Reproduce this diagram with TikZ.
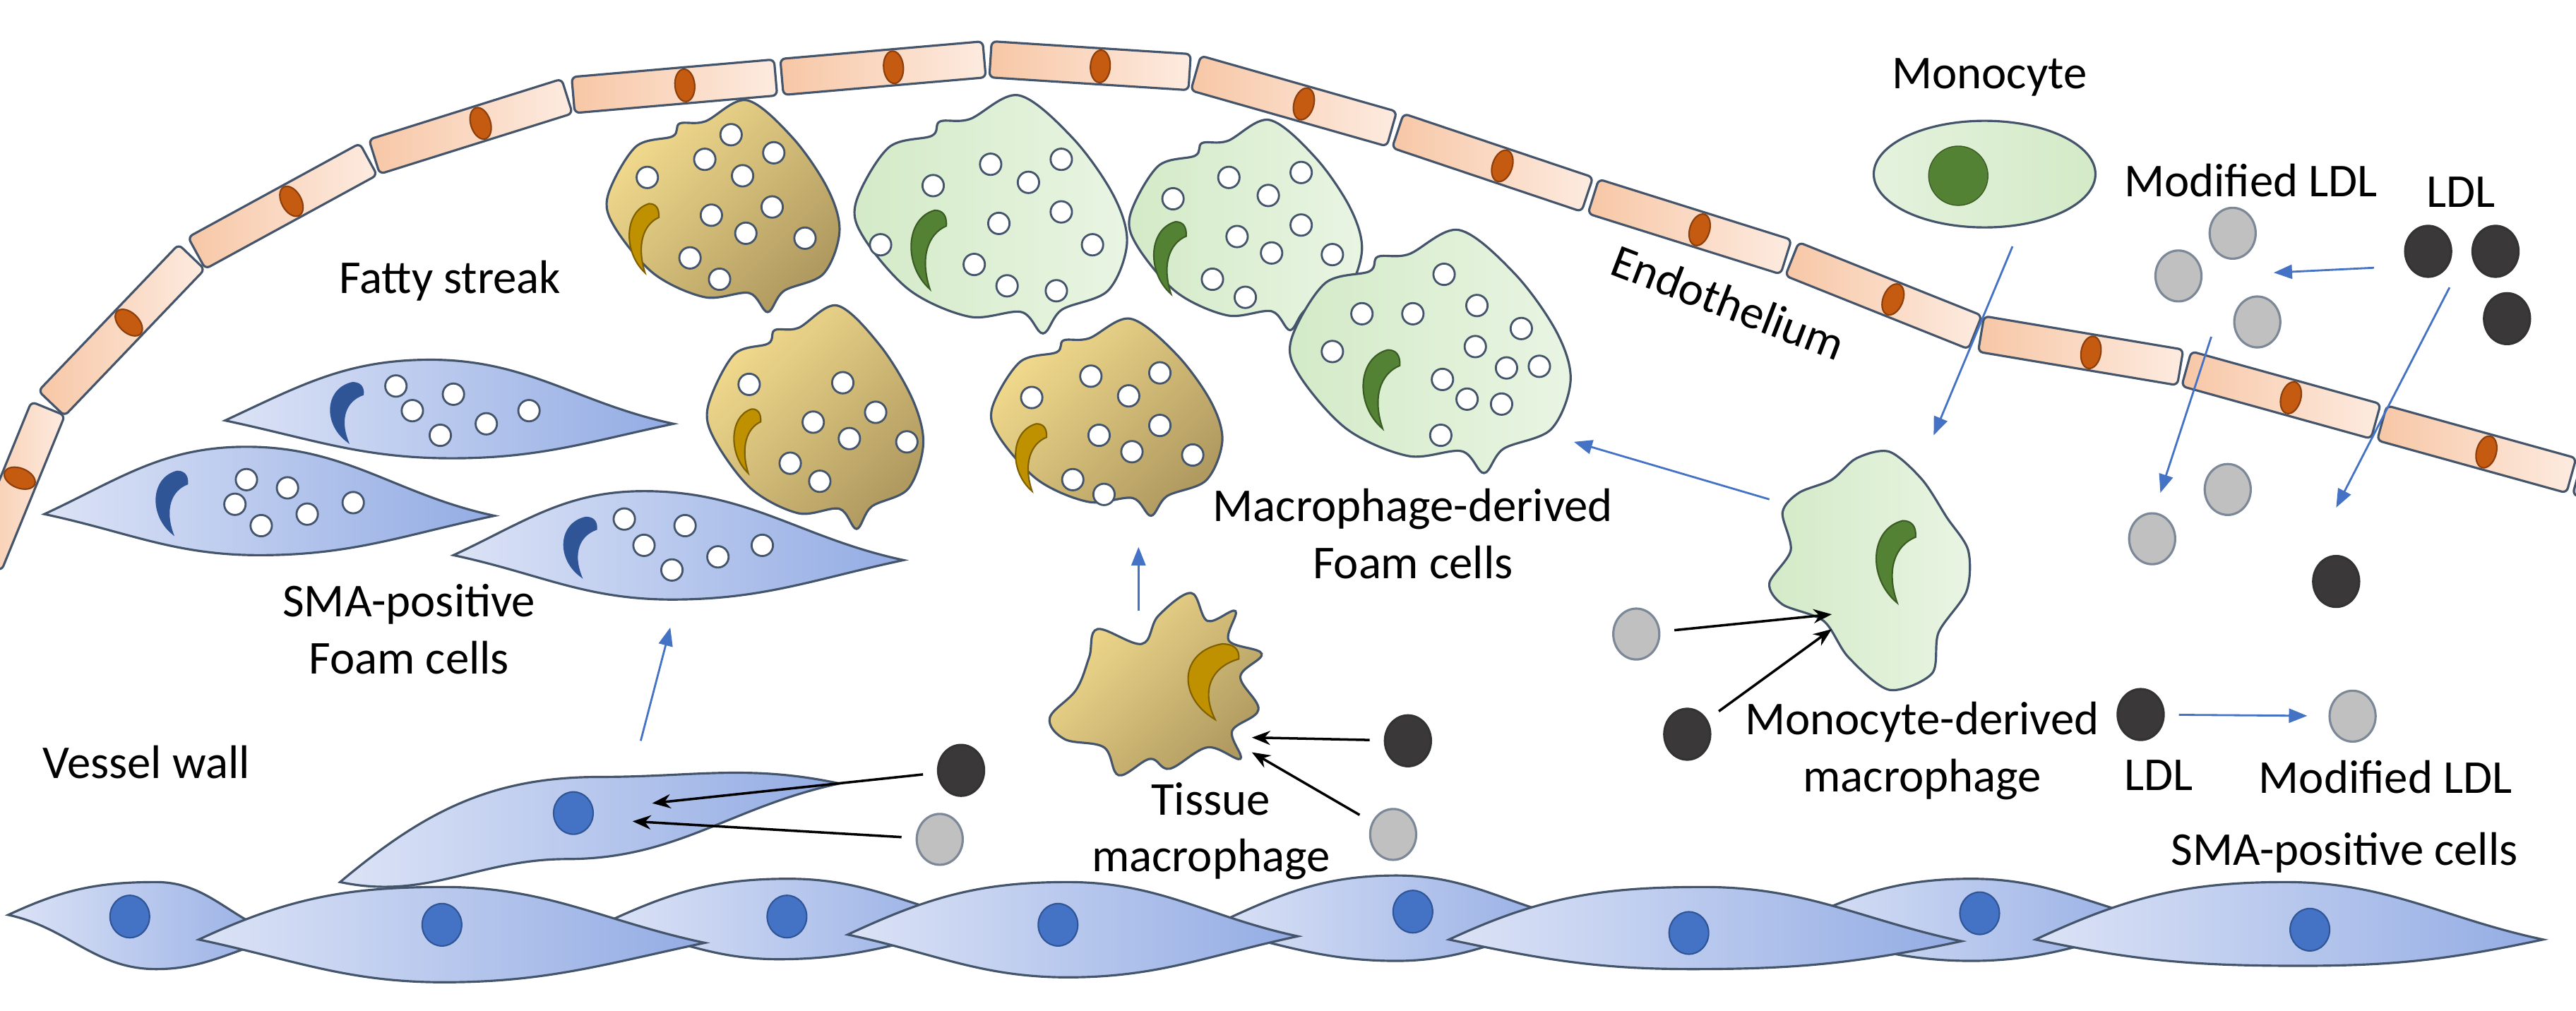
\documentclass[tikz,border=0pt]{standalone}
\usepackage{fontspec}
\setmainfont{Carlito}
\usetikzlibrary{calc,shapes.geometric,arrows.meta}
\definecolor{edge}{HTML}{44546A}
\definecolor{endoL}{HTML}{F7C7A6}
\definecolor{endoR}{HTML}{FDEBE0}
\definecolor{endoN}{HTML}{C55A11}
\definecolor{endoNd}{HTML}{8C3E0C}
\definecolor{yelL}{HTML}{F3DC8E}
\definecolor{yelR}{HTML}{B09A60}
\definecolor{yelN}{HTML}{BF9000}
\definecolor{yelNd}{HTML}{7F6000}
\definecolor{grnL}{HTML}{D3EAC7}
\definecolor{grnR}{HTML}{E9F5E3}
\definecolor{grnN}{HTML}{548235}
\definecolor{bluL}{HTML}{DCE3F6}
\definecolor{bluR}{HTML}{93ACE4}
\definecolor{bluC}{HTML}{2F5597}
\definecolor{bluN}{HTML}{4472C4}
\definecolor{arrB}{HTML}{4472C4}
\definecolor{ldl}{HTML}{3A3838}
\definecolor{mldl}{HTML}{C0C0C0}
\tikzset{
  lab/.style={font=\fontsize{19}{23}\selectfont, align=center, inner sep=0pt},
  endo/.style={rectangle, rounded corners=2pt, minimum height=0.512cm, inner sep=0pt, draw=edge, line width=0.9pt, left color=endoL, right color=endoR},
  enuc/.style={ellipse, minimum width=0.28cm, minimum height=0.46cm, inner sep=0pt, fill=endoN, draw=endoNd, line width=0.6pt},
  yelcell/.style={draw=edge, line width=0.9pt, left color=yelL, right color=yelR, shading angle=45},
  grncell/.style={draw=edge, line width=0.9pt, left color=grnL, right color=grnR},
  spin/.style={draw=edge, line width=0.9pt, left color=bluL, right color=bluR},
  vac/.style={fill=white, draw=edge, line width=0.8pt},
  part/.style={ellipse, minimum width=0.652cm, minimum height=0.721cm, inner sep=0pt, line width=0.9pt},
  dark/.style={part, fill=ldl, draw=black!80},
  gray/.style={part, fill=mldl, draw=edge!70},
  wnuc/.style={ellipse, minimum width=0.56cm, minimum height=0.6cm, inner sep=0pt, fill=bluN, draw=bluC, line width=0.6pt},
  barr/.style={draw=arrB, line width=0.8pt, -{Triangle[length=0.26cm,width=0.2cm]}},
  karr/.style={draw=black, line width=1pt, -{Stealth[length=0.26cm,width=0.2cm]}, shorten <=0.2cm}
}
\newcommand\blob[5]{\begin{scope}[shift={(#1,#2)},xscale=#3,yscale=#4]
 \draw[#5] plot[smooth cycle,tension=0.55] coordinates{(0.60,0.00) (0.80,0.18) (0.95,0.42) (1.00,0.62) (0.93,0.82) (0.76,0.90) (0.69,1.00) (0.61,0.91) (0.42,0.93) (0.20,0.82) (0.03,0.60) (0.00,0.45) (0.12,0.22) (0.28,0.17) (0.31,0.11) (0.42,0.10)};
\end{scope}}
\newcommand\cres[6]{\begin{scope}[shift={(#1,#2)},xscale=#3,yscale=#4]
 \filldraw[fill=#5,draw=#6,line width=0.6pt] (0.72,0) .. controls (0.0,0.1) and (-0.05,0.7) .. (0.6,1) .. controls (0.35,0.6) and (0.55,0.3) .. (1,0.2) .. controls (1.02,0.06) and (0.9,0) .. (0.72,0) -- cycle;
\end{scope}}
\newcommand\vacs[1]{\foreach \p in {#1} {\filldraw[vac] \p circle[radius=6.5];}}
\newcommand\spind[5][25]{\draw[spin] #2 to[out=#1,in=180] #3 to[out=0,in=168] #4 to[out=192,in=0] #5 to[out=180,in=-12] #2 -- cycle;}
\begin{document}
\begin{tikzpicture}[x=0.02327cm,y=-0.02327cm]
\useasboundingbox (0,0) rectangle (1568,615.5);
\clip (0,0) rectangle (1568,615.5);
% endothelium
\foreach \n/\c in {0/{-10,345},1/{30,247},2/{118,155},3/{226,96},4/{347,58},5/{474,47},6/{601,36},7/{726,44},8/{849,79},9/{968,119},10/{1089,157},11/{1204,203},12/{1329,224},13/{1448,257},14/{1567,290},15/{1686,323}}
  \coordinate (e\n) at (\c);
\foreach \a/\b in {0/1,1/2,2/3,3/4,4/5,5/6,6/7,7/8,8/9,9/10,10/11,11/12,12/13,13/14,14/15}{
  \path let \p1=(e\a), \p2=(e\b), \n1={atan2(\y2-\y1,\x2-\x1)}, \n2={veclen(\x2-\x1,\y2-\y1)-2.5} in
    node[endo, rotate=\n1, minimum width=\n2] (ec\a) at ($(e\a)!0.5!(e\b)$) {}
    node[enuc, rotate=\n1] (en\a) at ($(e\a)!0.55!(e\b)$) {};
}
% foam cells
\blob{370}{61}{141}{129}{yelcell}
\cres{380}{124}{21}{42}{yelN}{yelNd}
\vacs{(445,82),(429,97),(471,93),(394,108),(452,107),(470,126),(433,131),(454,142),(490,145),(420,157),(438,170)}
\blob{431}{186}{131}{136}{yelcell}
\cres{444}{249}{19}{39}{yelN}{yelNd}
\vacs{(456,234),(513,233),(533,251),(495,257),(517,267),(552,269),(481,282),(499,293)}
\blob{521}{58}{165}{145}{grncell}
\cres{551}{128}{25}{48}{grnN}{grnN!70!black}
\vacs{(603,100),(646,97),(568,113),(626,111),(646,129),(608,136),(536,149),(665,149),(593,161),(613,174),(643,177)}
\blob{688}{73}{141}{128}{grncell}
\cres{699}{135}{23}{44}{grnN}{grnN!70!black}
\vacs{(748,108),(792,105),(714,121),(772,119),(792,137),(753,144),(774,154),(811,155),(738,170),(758,181)}
\blob{786}{140}{170}{148}{grncell}
\cres{826}{213}{26}{48}{grnN}{grnN!70!black}
\vacs{(879,167),(829,191),(860,191),(899,186),(926,200),(811,214),(898,211),(917,224),(937,223),(878,231),(893,243),(914,246),(877,265)}
\blob{604}{194}{140}{120}{yelcell}
\cres{615}{258}{22}{41}{yelN}{yelNd}
\vacs{(628,242),(664,229),(706,227),(687,241),(669,265),(706,259),(689,275),(726,277),(653,292),(672,301)}
% SMA foam cells
\spind{(137,256)}{(262,219)}{(410,258)}{(275,279)}
\cres{198}{233}{23}{36}{bluC}{bluC}
\vacs{(241,235),(276,240),(251,250),(296,258),(268,265),(322,250)}
\spind{(27,313)}{(150,272)}{(301,314)}{(158,338)}
\cres{92}{287}{22}{38}{bluC}{bluC}
\vacs{(150,292),(175,297),(143,307),(159,320),(187,313),(215,306)}
\spind{(276,338)}{(392,299)}{(550,341)}{(409,365)}
\cres{340}{315}{23}{36}{bluC}{bluC}
\vacs{(380,316),(417,320),(392,332),(437,339),(464,332),(409,347)}
% vessel wall cells
\spind{(5,557)}{(95,537)}{(175,570)}{(95,590)}
\spind{(368,562)}{(480,535)}{(600,562)}{(474,584)}
\spind{(735,565)}{(850,533)}{(960,560)}{(850,585)}
\spind{(1085,565)}{(1200,535)}{(1320,562)}{(1200,585)}
\spind{(121,572)}{(270,540)}{(429,574)}{(270,598)}
\spind{(516,569)}{(650,537)}{(790,570)}{(650,595)}
\spind{(882,572)}{(1037,540)}{(1194,573)}{(1030,590)}
\spind{(1239,572)}{(1391,537)}{(1548,572)}{(1400,588)}
\foreach \n/\c in {1/{79,558},2/{269,563},3/{479,558},4/{644,563},5/{860,555},6/{1028,568},7/{1205,556},8/{1406,566}}
  \node[wnuc] (wn\n) at (\c) {};
% migrating SMA cell
\spind[40]{(207,537)}{(365,473)}{(511,477)}{(345,523)}
\node[wnuc] (mn) at (349,495) {};
% tissue macrophage
\draw[yelcell] plot[smooth cycle,tension=0.6] coordinates{(725,361) (735,378) (752,372) (748,390) (768,398) (755,412) (766,432) (750,445) (755,462) (735,455) (712,468) (700,462) (681,472) (672,455) (648,450) (639,437) (655,420) (663,400) (668,383) (695,392) (705,375)};
\cres{718}{392}{36}{46}{yelN}{yelNd}
% monocyte-derived macrophage
\draw[grncell] plot[smooth cycle,tension=0.5] coordinates{(1130,279) (1150,275) (1170,292) (1185,315) (1198,335) (1197,360) (1180,385) (1176,410) (1150,420) (1125,400) (1110,378) (1085,368) (1077,355) (1090,335) (1085,312) (1095,300) (1115,292)};
\cres{1138}{317}{28}{50}{grnN}{grnN!70!black}
% monocyte
\node[ellipse, draw=edge, line width=0.9pt, left color=grnL!60!white, right color=grnL, minimum width=3.14cm, minimum height=1.51cm] (mono) at (1208,106) {};
\node[circle, fill=grnN, draw=grnN!70!black, minimum size=0.84cm, inner sep=0pt] (monon) at (1192,107) {};
% particles
\node[gray] (g1) at (1359,142) {};
\node[gray] (g2) at (1326,168) {};
\node[gray] (g3) at (1374,196) {};
\node[dark] (d1) at (1478,153) {};
\node[dark] (d2) at (1519,153) {};
\node[dark] (d3) at (1526,194) {};
\node[gray] (g4) at (1356,298) {};
\node[gray] (g5) at (1310,328) {};
\node[dark] (d4) at (1422,354) {};
\node[gray] (g6) at (996,386) {};
\node[dark] (d5) at (1027,447) {};
\node[dark] (d6) at (1303,435) {};
\node[gray] (g7) at (1432,436) {};
\node[dark] (d7) at (857,451) {};
\node[gray] (g8) at (848,508) {};
\node[dark] (d8) at (585,469) {};
\node[gray] (g9) at (572,511) {};
% arrow end points
\coordinate (a1s) at (1445,163); \coordinate (a1e) at (1384,166);
\coordinate (a2s) at (1225,150); \coordinate (a2e) at (1177,265);
\coordinate (a3s) at (1346,205); \coordinate (a3e) at (1315,300);
\coordinate (a4s) at (1491,175); \coordinate (a4e) at (1422,309);
\coordinate (a5s) at (1077,304); \coordinate (a5e) at (958,269);
\coordinate (a6s) at (693,372); \coordinate (a6e) at (693,333);
\coordinate (a7s) at (390,451); \coordinate (a7e) at (408,382);
\coordinate (t1) at (1115,374); \coordinate (t2) at (1115,383);
\coordinate (t3) at (762,449); \coordinate (t4) at (762,458);
\coordinate (t5) at (397,489); \coordinate (t6) at (385,500);
\draw[barr] (a1s) -- (a1e);
\draw[barr] (a2s) -- (a2e);
\draw[barr] (a3s) -- (a3e);
\draw[barr] (a4s) -- (a4e);
\draw[barr] (a5s) -- (a5e);
\draw[barr] (a6s) -- (a6e);
\draw[barr] (a7s) -- (a7e);
\draw[barr, shorten <=0.2cm, shorten >=0.3cm] (d6) -- (g7);
\draw[karr] (g6) -- (t1);
\draw[karr] (d5) -- (t2);
\draw[karr] (d7) -- (t3);
\draw[karr] (g8) -- (t4);
\draw[karr] (d8) -- (t5);
\draw[karr] (g9) -- (t6);
% labels
\node[lab] (l1) at (274,171) {Fatty streak};
\node[lab] (l2) at (89,464) {Vessel wall};
\node[lab] (l3) at (249,383) {SMA-positive\\Foam cells};
\node[lab] (l4) at (860,325) {Macrophage-derived\\Foam cells};
\node[lab] (l5) at (737,506) {Tissue\\macrophage};
\node[lab] (l6) at (1170,457) {Monocyte-derived\\macrophage};
\node[lab] (l7) at (1211,47) {Monocyte};
\node[lab] (l8) at (1370,110) {Modified LDL};
\node[lab] (l9) at (1498,117) {LDL};
\node[lab] (l10) at (1314,472) {LDL};
\node[lab] (l11) at (1452,473) {Modified LDL};
\node[lab] (l12) at (1427,519) {SMA-positive cells};
\node[lab, rotate=-21] (l13) at (1052,184) {Endothelium};
\end{tikzpicture}
\end{document}
